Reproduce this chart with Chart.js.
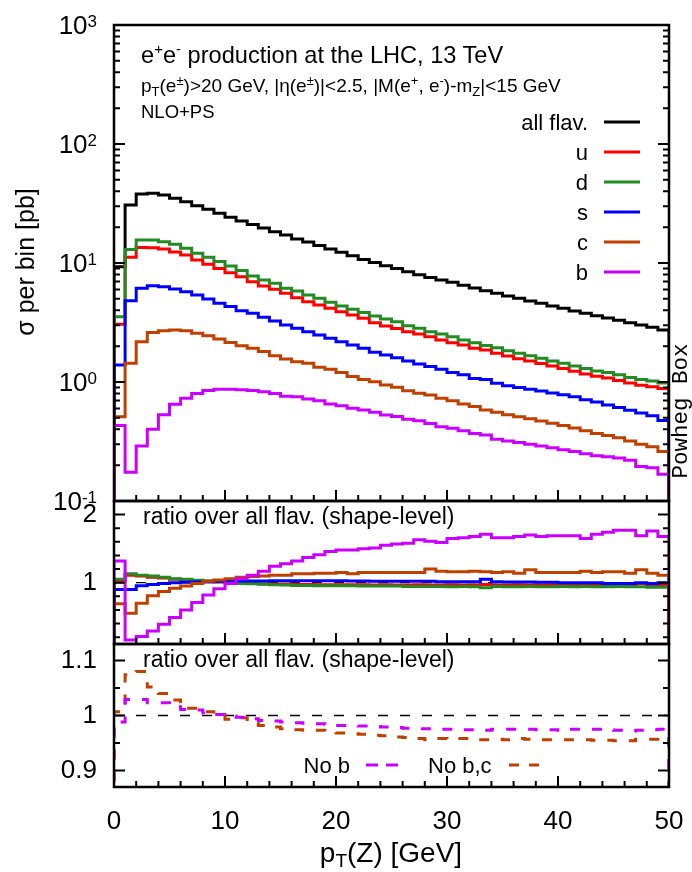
<!DOCTYPE html>
<html><head><meta charset="utf-8">
<script src="https://cdn.jsdelivr.net/npm/chart.js@4.4.1/dist/chart.umd.min.js"></script>
<style>
html,body{margin:0;padding:0;background:#fff;}
#wrap{position:relative;width:692px;height:872px;overflow:hidden;background:#fff;}
canvas{position:absolute;left:0;}
svg{position:absolute;left:0;top:0;pointer-events:none;}
</style></head><body>
<div id="wrap">
<canvas id="cTop" width="692" height="520" style="top:0px"></canvas>
<canvas id="cMid" width="692" height="155" style="top:495px"></canvas>
<canvas id="cBot" width="692" height="234" style="top:638px"></canvas>
<svg id="txt" width="692" height="872" xmlns="http://www.w3.org/2000/svg" font-family="'Liberation Sans', Arial, sans-serif" fill="#000">
<text x="141" y="63" font-size="23.6">e<tspan dy="-9" font-size="15">+</tspan><tspan dy="9">e</tspan><tspan dy="-9" font-size="15">-</tspan><tspan dy="9"> production at the LHC, 13 TeV</tspan></text>
<text x="141" y="92" font-size="19">p<tspan dy="4" font-size="13">T</tspan><tspan dy="-4">(e</tspan><tspan dy="-7" font-size="13">±</tspan><tspan dy="7">)&gt;20 GeV, |η(e</tspan><tspan dy="-7" font-size="13">±</tspan><tspan dy="7">)|&lt;2.5, |M(e</tspan><tspan dy="-7" font-size="13">+</tspan><tspan dy="7">, e</tspan><tspan dy="-7" font-size="13">-</tspan><tspan dy="7">)-m</tspan><tspan dy="4" font-size="13">Z</tspan><tspan dy="-4">|&lt;15 GeV</tspan></text>
<text x="141" y="118" font-size="18.5">NLO+PS</text>
<text x="143" y="524" font-size="23">ratio over all flav. (shape-level)</text>
<text x="143" y="667" font-size="23">ratio over all flav. (shape-level)</text>
<text x="350" y="773" font-size="22" text-anchor="end">No b</text>
<line x1="366" x2="398" y1="765" y2="765" stroke="#cc00ff" stroke-width="3" stroke-dasharray="12 8"/>
<text x="428" y="773" font-size="22">No b,c</text>
<line x1="509" x2="539" y1="765" y2="765" stroke="#c04000" stroke-width="3" stroke-dasharray="10 10"/>
<text transform="translate(34,262) rotate(-90)" text-anchor="middle" font-size="25">σ per bin [pb]</text>
<text x="391" y="862" text-anchor="middle" font-size="28">p<tspan dy="5" font-size="19">T</tspan><tspan dy="-5">(Z) [GeV]</tspan></text>
<text transform="translate(687,411) rotate(-90)" text-anchor="middle" font-family="'Liberation Mono', 'DejaVu Sans Mono', monospace" font-size="22.5">Powheg Box</text>
<g id="legend"></g>
</svg>
</div>
<script>
// ---------------- data ----------------
const ptBins = [0,1,2,3,4,5,6,7,8,9,10,11,12,13,14,15,16,17,18,19,20,21,22,23,24,25,26,27,28,29,30,31,32,33,34,35,36,37,38,39,40,41,42,43,44,45,46,47,48,49];
const binWidth = 1;

const flavLabels = ['all flav.', 'u', 'd', 's', 'c', 'b'];
const flavColors = ['#000000', '#ff0000', '#228b22', '#0000ff', '#c04000', '#cc00ff'];

const allFlav = [9.3,30.7,38.0,38.5,37.2,35.0,32.7,30.3,28.3,26.2, 24.2,22.5,21.1,19.7,18.3,17.2,15.9,15.0,14.0,13.1, 12.3,11.5,10.7,10.1,9.5,9.0,8.45,7.97,7.57,7.19, 6.89,6.49,6.17,5.85,5.56,5.28,5.05,4.79,4.58,4.35, 4.16,3.95,3.78,3.61,3.45,3.30,3.15,3.01,2.88,2.73];
const uQuark = [3.05,11.2,13.5,13.4,13.1,12.4,11.7,10.6,9.75,9.0, 8.3,7.67,6.96,6.41,6.01,5.56,5.11,4.73,4.44,4.16, 3.90,3.66,3.43,3.15,2.96,2.82,2.65,2.53,2.40,2.25, 2.14,2.05,1.92,1.86,1.74,1.65,1.57,1.50,1.43,1.36, 1.30,1.23,1.17,1.12,1.08,1.03,0.98,0.94,0.91,0.88];
const dQuark = [3.54,13.0,15.6,15.6,15.1,14.4,13.3,12.1,11.2,10.3, 9.44,8.63,7.78,7.19,6.75,6.13,5.82,5.38,5.05,4.67, 4.35,4.08,3.83,3.59,3.38,3.21,2.97,2.83,2.65,2.53, 2.40,2.25,2.14,2.03,1.94,1.83,1.74,1.66,1.58,1.50, 1.44,1.36,1.30,1.24,1.20,1.15,1.09,1.05,1.02,0.98];
const sQuark = [1.39,4.82,6.13,6.45,6.32,6.05,5.74,5.38,4.98,4.58, 4.30,3.97,3.78,3.50,3.26,3.01,2.83,2.65,2.48,2.33, 2.18,2.05,1.92,1.78,1.69,1.60,1.50,1.42,1.35,1.28, 1.20,1.15,1.07,1.05,0.975,0.93,0.90,0.87,0.84,0.81, 0.78,0.75,0.71,0.68,0.64,0.61,0.58,0.55,0.52,0.475];
const cQuark = [0.51,1.44,2.18,2.60,2.70,2.73,2.70,2.57,2.45,2.30, 2.15,2.02,1.92,1.80,1.66,1.56,1.48,1.44,1.33,1.28, 1.20,1.11,1.05,1.006,0.944,0.902,0.846,0.803,0.778,0.729, 0.697,0.653,0.621,0.582,0.556,0.53,0.51,0.49,0.47,0.45, 0.43,0.41,0.39,0.37,0.355,0.34,0.32,0.30,0.285,0.26];
const bQuark = [0.43,0.174,0.29,0.40,0.53,0.65,0.73,0.80,0.85,0.87, 0.87,0.86,0.85,0.83,0.80,0.76,0.75,0.72,0.697,0.653, 0.633,0.601,0.582,0.556,0.528,0.512,0.486,0.473,0.449,0.421, 0.408,0.390,0.370,0.359,0.330,0.32,0.31,0.30,0.29,0.28, 0.27,0.26,0.25,0.24,0.235,0.23,0.22,0.195,0.19,0.168];

// shape-level ratios over all flavours
const uRatio = [1.02,1.11,1.10,1.08,1.07,1.05,1.04,1.03,1.02,1.01, 1.00,0.995,0.99,0.985,0.98,0.98,0.975,0.975,0.97,0.97, 0.97,0.97,0.97,0.965,0.97,0.965,0.965,0.97,0.965,0.965, 0.97,0.965,0.965,0.975,0.965,0.965,0.97,0.965,0.965,0.97, 0.965,0.965,0.97,0.965,0.97,0.97,0.965,0.99,0.97,0.97];
const dRatio = [1.05,1.13,1.11,1.10,1.08,1.06,1.05,1.035,1.025,1.015, 1.005,0.99,0.985,0.976,0.97,0.965,0.96,0.96,0.955,0.955, 0.955,0.955,0.95,0.95,0.95,0.95,0.945,0.945,0.945,0.945, 0.94,0.945,0.94,0.925,0.945,0.94,0.94,0.945,0.94,0.94, 0.945,0.94,0.945,0.94,0.94,0.945,0.94,0.94,0.935,0.935];
const sRatio = [0.90,0.90,0.955,0.975,0.99,1.0,1.005,1.01,1.015,1.02, 1.02,1.025,1.025,1.025,1.03,1.03,1.03,1.03,1.03,1.03, 1.03,1.025,1.025,1.02,1.02,1.02,1.02,1.02,1.02,1.015, 1.015,1.015,1.015,1.05,1.015,1.01,1.01,1.01,1.005,1.005, 1.0,1.0,1.0,1.0,0.99,0.99,0.99,1.0,0.99,1.0];
const cRatio = [0.69,0.55,0.70,0.81,0.87,0.92,0.95,0.99,1.02,1.04, 1.06,1.08,1.09,1.10,1.11,1.11,1.13,1.13,1.14,1.14, 1.15,1.13,1.15,1.15,1.15,1.15,1.15,1.15,1.20,1.17, 1.16,1.16,1.17,1.16,1.15,1.16,1.14,1.19,1.15,1.15, 1.15,1.15,1.17,1.15,1.16,1.16,1.14,1.19,1.14,1.11];
const bRatio = [1.32,0.16,0.21,0.29,0.39,0.49,0.60,0.71,0.82,0.91, 0.99,1.06,1.11,1.17,1.24,1.28,1.32,1.37,1.41,1.46, 1.48,1.48,1.50,1.51,1.55,1.57,1.58,1.63,1.61,1.59, 1.65,1.66,1.68,1.71,1.66,1.66,1.68,1.70,1.68,1.69, 1.69,1.69,1.65,1.71,1.74,1.77,1.77,1.69,1.76,1.68];

const noB  = [0.988,1.029,1.029,1.023,1.023,1.016,1.011,1.010,1.005,1.002, 0.999,0.997,0.994,0.991,0.990,0.988,0.987,0.986,0.985,0.984, 0.982,0.982,0.981,0.980,0.979,0.978,0.977,0.976,0.976,0.975, 0.975,0.974,0.974,0.973,0.975,0.975,0.975,0.975,0.974,0.974, 0.973,0.975,0.975,0.975,0.974,0.973,0.972,0.973,0.974,0.975];
const noBC = [1.007,1.074,1.080,1.052,1.040,1.028,1.013,1.013,1.007,1.002, 0.993,0.996,0.987,0.982,0.979,0.976,0.974,0.973,0.973,0.970, 0.968,0.967,0.966,0.964,0.963,0.961,0.960,0.958,0.956,0.958, 0.957,0.958,0.956,0.956,0.957,0.956,0.958,0.957,0.956,0.956, 0.956,0.956,0.956,0.955,0.955,0.954,0.954,0.957,0.957,0.961];
const refLevel = 1;

// tick labels
const xTickValues = [0,10,20,30,40,50];
const topDecades = [-1,0,1,2,3];
const midTickValues = [1,2];
const botTickValues = [0.9,1,1.1];
const botTickLabels = ['0.9','1','1.1'];

// ---------------- helpers ----------------
const FONT = "'Liberation Sans', Arial, sans-serif";

function histPoints(vals, floor) {
  const last = ptBins[ptBins.length - 1] + binWidth;
  const pts = [{x: ptBins[0], y: floor}];
  vals.forEach((v, i) => pts.push({x: ptBins[i], y: v}));
  pts.push({x: last, y: vals[vals.length - 1]});
  pts.push({x: last, y: floor});
  return pts;
}
function hds(label, vals, color, floor, order, extra) {
  return Object.assign({
    label, data: histPoints(vals, floor), borderColor: color, backgroundColor: color,
    borderWidth: 3, pointRadius: 0, stepped: 'before', fill: false, order,
    borderCapStyle: 'butt', borderJoinStyle: 'miter'
  }, extra || {});
}
function refDs(order) {
  return {label: 'ref', data: [{x: 0, y: refLevel}, {x: 50, y: refLevel}], borderColor: '#000',
    borderWidth: 1.3, borderDash: [10, 12], pointRadius: 0, fill: false, order};
}

const framePlugin = {
  id: 'frame',
  afterDraw(chart, args, opts) {
    const {ctx, chartArea: a} = chart;
    const xs = chart.scales.x, ys = chart.scales.y;
    ctx.save();
    ctx.strokeStyle = '#000';
    ctx.lineWidth = 2;
    ctx.beginPath();
    for (let v = 0; v <= 50; v += 2) {
      const px = xs.getPixelForValue(v);
      const len = xTickValues.includes(v) ? 11 : 6;
      ctx.moveTo(px, a.bottom); ctx.lineTo(px, a.bottom - len);
    }
    (opts.yTicks || []).forEach(t => {
      const py = ys.getPixelForValue(t.v);
      const len = t.major ? 11 : 6;
      ctx.moveTo(a.left, py); ctx.lineTo(a.left + len, py);
      ctx.moveTo(a.right, py); ctx.lineTo(a.right - len, py);
    });
    ctx.stroke();
    ctx.lineWidth = 2.5;
    ctx.strokeRect(a.left, a.top, a.right - a.left, a.bottom - a.top);
    ctx.restore();
  }
};

const logLabelPlugin = {
  id: 'logLabels',
  afterDraw(chart) {
    const ys = chart.scales.y, ctx = chart.ctx;
    ctx.save();
    ctx.fillStyle = '#000';
    ctx.textAlign = 'right';
    ctx.textBaseline = 'alphabetic';
    topDecades.forEach(d => {
      const py = ys.getPixelForValue(Math.pow(10, d));
      const exp = String(d);
      ctx.font = '17px ' + FONT;
      const ew = ctx.measureText(exp).width;
      ctx.fillText(exp, 97, py + 2);
      ctx.font = '26px ' + FONT;
      ctx.fillText('10', 97 - ew, py + 9);
    });
    ctx.restore();
  }
};

// minor/major tick lists
const topTicks = [];
topDecades.forEach(d => {
  for (let m = 1; m <= 9; m++) {
    if (d === 3 && m > 1) break;
    topTicks.push({v: m * Math.pow(10, d), major: m === 1});
  }
});
const midTicks = [];
for (let k = 1; k <= 11; k++) midTicks.push({v: k * 0.2, major: midTickValues.includes(k / 5)});
const botTicks = [];
for (let k = 18; k <= 22; k++) botTicks.push({v: k * 0.05, major: k % 2 === 0});

const hideGrid = {display: false, drawTicks: false};
const common = {
  responsive: false, animation: false, events: [],
  plugins: {legend: {display: false}, tooltip: {enabled: false}}
};
function yFit(s) { s.width = 114; s.paddingTop = 0; s.paddingBottom = 0; }

// ---------------- top panel ----------------
new Chart(document.getElementById('cTop'), {
  type: 'line',
  data: {datasets: [
    hds('b', bQuark, flavColors[5], 0.01, 0),
    hds('c', cQuark, flavColors[4], 0.01, 1),
    hds('s', sQuark, flavColors[3], 0.01, 2),
    hds('d', dQuark, flavColors[2], 0.01, 3),
    hds('u', uQuark, flavColors[1], 0.01, 4),
    hds('all flav.', allFlav, flavColors[0], 0.01, 5)
  ]},
  options: Object.assign({}, common, {
    layout: {padding: {top: 25, right: 23, bottom: 19, left: 0}},
    plugins: Object.assign({}, common.plugins, {frame: {yTicks: topTicks}}),
    scales: {
      x: {type: 'linear', min: 0, max: 50, display: false},
      y: {type: 'logarithmic', min: 0.1, max: 1000, grid: hideGrid, border: {display: false},
          ticks: {display: false}, afterFit: yFit}
    }
  }),
  plugins: [framePlugin, logLabelPlugin]
});

// ---------------- middle panel ----------------
new Chart(document.getElementById('cMid'), {
  type: 'line',
  data: {datasets: [
    hds('b', bRatio, flavColors[5], -1, 0),
    hds('c', cRatio, flavColors[4], -1, 1),
    hds('s', sRatio, flavColors[3], -1, 2),
    hds('d', dRatio, flavColors[2], -1, 3),
    hds('u', uRatio, flavColors[1], -1, 4),
    refDs(6)
  ]},
  options: Object.assign({}, common, {
    layout: {padding: {top: 6, right: 23, bottom: 6, left: 0}},
    plugins: Object.assign({}, common.plugins, {frame: {yTicks: midTicks}}),
    scales: {
      x: {type: 'linear', min: 0, max: 50, display: false},
      y: {type: 'linear', min: 0.1, max: 2.2, grid: hideGrid, border: {display: false},
          afterBuildTicks(s) { s.ticks = midTickValues.map(v => ({value: v})); },
          ticks: {color: '#000', padding: 17, font: {family: FONT, size: 26}, callback: v => String(v)},
          afterFit: yFit}
    }
  }),
  plugins: [framePlugin]
});

// ---------------- bottom panel ----------------
new Chart(document.getElementById('cBot'), {
  type: 'line',
  data: {datasets: [
    hds('No b', noB, flavColors[5], 0.8, 0, {borderDash: [10, 12]}),
    hds('No b,c', noBC, flavColors[4], 0.8, 1, {borderDash: [10, 12]}),
    refDs(6)
  ]},
  options: Object.assign({}, common, {
    layout: {padding: {top: 6, right: 23, bottom: 0, left: 0}},
    plugins: Object.assign({}, common.plugins, {frame: {yTicks: botTicks}}),
    scales: {
      x: {type: 'linear', min: 0, max: 50, position: 'bottom', grid: hideGrid, border: {display: false},
          afterBuildTicks(s) { s.ticks = xTickValues.map(v => ({value: v})); },
          ticks: {color: '#000', padding: 19, font: {family: FONT, size: 26}, maxRotation: 0, autoSkip: false, callback: v => String(v)},
          afterFit(s) { s.height = 85; s.paddingLeft = 0; s.paddingRight = 0; }},
      y: {type: 'linear', min: 0.87, max: 1.13, grid: hideGrid, border: {display: false},
          afterBuildTicks(s) { s.ticks = botTickValues.map(v => ({value: v})); },
          ticks: {color: '#000', padding: 17, font: {family: FONT, size: 26},
                  callback: (v) => botTickLabels[botTickValues.indexOf(v)] ?? String(v)},
          afterFit: yFit}
    }
  }),
  plugins: [framePlugin]
});

// ---------------- top legend (svg text) ----------------
(function () {
  const NS = 'http://www.w3.org/2000/svg';
  const g = document.getElementById('legend');
  flavLabels.forEach((lab, i) => {
    const y = 122 + 30 * i;
    const t = document.createElementNS(NS, 'text');
    t.setAttribute('x', 588); t.setAttribute('y', y + 8);
    t.setAttribute('text-anchor', 'end'); t.setAttribute('font-size', 22);
    t.textContent = lab;
    g.appendChild(t);
    const l = document.createElementNS(NS, 'line');
    l.setAttribute('x1', 604); l.setAttribute('x2', 640);
    l.setAttribute('y1', y); l.setAttribute('y2', y);
    l.setAttribute('stroke', flavColors[i]); l.setAttribute('stroke-width', 3);
    g.appendChild(l);
  });
})();
</script>
</body></html>
